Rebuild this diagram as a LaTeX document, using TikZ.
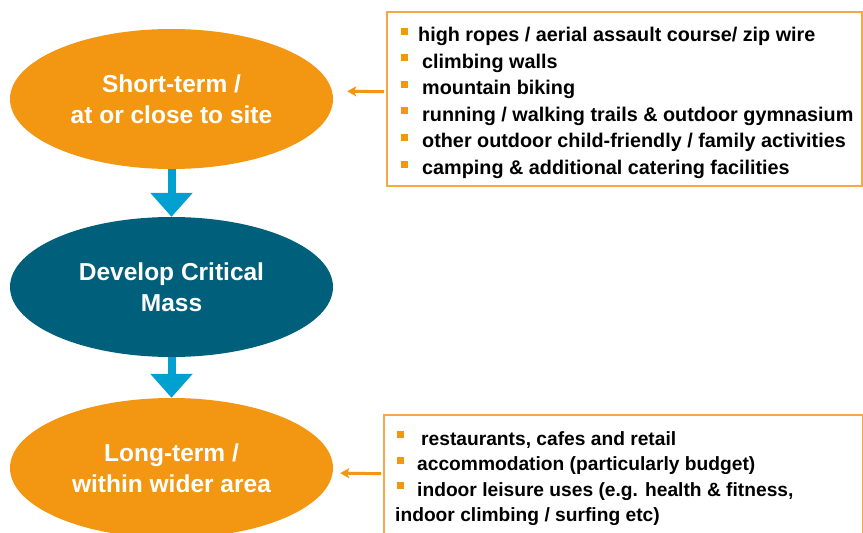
\documentclass[tikz,border=0pt]{standalone}
\usepackage{fontspec}
\setmainfont{Liberation Sans}
\usepackage{tikz}
\usetikzlibrary{shapes.geometric}
\usetikzlibrary{arrows.meta}
\definecolor{stageorange}{RGB}{243,150,18}
\definecolor{stageteal}{RGB}{0,95,123}
\definecolor{flowblue}{RGB}{0,160,209}
\definecolor{frameorange}{RGB}{245,168,74}
\newcommand{\bul}{\textcolor{stageorange}{\rule[7pt]{7pt}{7pt}}}

\begin{document}
\begin{tikzpicture}[x=1pt, y=-1pt,
  stage/.style={ellipse, minimum width=323pt, minimum height=140pt, inner sep=0pt, text=white, align=center, font=\fontsize{24.5}{31}\selectfont\bfseries},
  flow/.style={draw=flowblue, line width=8pt, -{Triangle[length=24pt,width=41pt]}},
  listframe/.style={draw=frameorange, line width=1.5pt, anchor=north west, inner sep=0pt},
  listtext/.style={anchor=north west, inner sep=0pt, align=left, font=\fontsize{19.8}{26.6}\selectfont\bfseries},
  ptr/.style={draw=stageorange, line width=3pt, -{Stealth[length=9pt,width=10pt,inset=2pt]}}]
\clip (0,0) rectangle (863,533);
\node[stage, fill=stageorange] (short) at (171.5,99) {Short-term /\\at or close to site};
\node[stage, fill=stageteal] (mass) at (171.5,287) {Develop Critical\\Mass};
\node[stage, fill=stageorange] (long) at (171.5,468) {Long-term /\\within wider area};
\draw[flow] (short.south) -- (mass.north);
\draw[flow] (mass.south) -- (long.north);
% short-term list
\node[listframe, minimum width=475pt, minimum height=174pt] (items1) at (386,11) {};
\node[listtext] (items1text) at (401,27) {\bul\hspace{10pt}high ropes / aerial assault course/ zip wire\\
  \bul\hspace{14pt}climbing walls\\
  \bul\hspace{14pt}mountain biking\\
  \bul\hspace{14pt}running / walking trails \& outdoor gymnasium\\
  \bul\hspace{14pt}other outdoor child-friendly / family activities\\
  \bul\hspace{14pt}camping \& additional catering facilities};
\draw[ptr, shorten >=14pt, shorten <=2pt] ([yshift=7pt]items1.west) -- ([yshift=8pt]short.east);
% long-term list
\node[listframe, minimum width=479pt, minimum height=150pt] (items2) at (383,414) {};
\node[listtext, font=\fontsize{19.2}{25.5}\selectfont\bfseries] (items2text) at (395,431) {\hspace{2pt}\bul\hspace{17pt}restaurants, cafes and retail\\
  \hspace{2pt}\bul\hspace{13pt}accommodation (particularly budget)\\
  \hspace{2pt}\bul\hspace{13pt}indoor leisure uses (e.g. health \& fitness,\\
  indoor climbing / surfing etc)};
\draw[ptr, shorten >=7pt, shorten <=2pt] ([yshift=16pt]items2.west) -- ([yshift=-5pt]long.east);
\end{tikzpicture}
\end{document}
